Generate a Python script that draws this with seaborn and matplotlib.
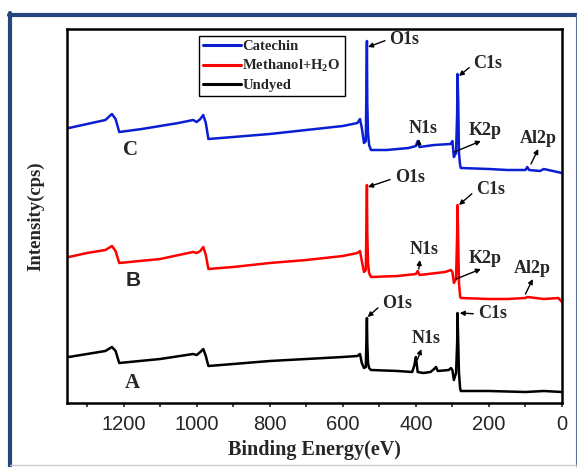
import numpy as np
import pandas as pd
import matplotlib
matplotlib.use("Agg")
import matplotlib.pyplot as plt
from matplotlib.lines import Line2D
import seaborn as sns

# survey spectra (binding energy in eV, intensity in arbitrary cps units, offset per curve)
catechin_energy = [1350, 1300, 1250, 1232, 1222, 1212, 1150, 1100, 1050, 1010, 1000, 990, 982, 975, 968,
                   900, 800, 700, 600, 560, 553, 548, 542, 537, 535, 534, 533, 531, 528, 523,
                   480, 420, 400, 395, 390, 350, 305, 300, 296, 290, 287, 286, 284, 282, 279, 277,
                   200, 150, 100, 95, 90, 60, 50, 0]
catechin_counts = [275, 279, 283, 289, 284, 271, 274, 277, 280, 283, 281, 284, 288, 280, 264,
                   266, 269, 273, 277, 280, 284, 275, 260, 262, 330, 362, 300, 270, 258, 253,
                   253, 255, 257, 262, 256, 258, 259, 262, 246, 250, 290, 329, 300, 250, 238, 235,
                   234, 233, 233, 236, 233, 232, 234, 230]

methanol_energy = [1350, 1300, 1250, 1232, 1222, 1212, 1100, 1010, 1000, 990, 982, 975, 968,
                   900, 800, 700, 600, 560, 553, 548, 542, 537, 535, 534, 533, 531, 528, 523,
                   450, 400, 395, 390, 320, 304, 300, 296, 290, 287, 286, 284, 282, 279, 277,
                   200, 150, 100, 95, 50, 10, 0]
methanol_counts = [146, 150, 153, 157, 152, 140, 144, 151, 150, 152, 156, 148, 134,
                   136, 140, 143, 147, 150, 152, 142, 131, 133, 190, 218, 170, 140, 130, 126,
                   127, 129, 132, 128, 131, 133, 131, 120, 124, 170, 198, 160, 120, 107, 105,
                   104, 104, 105, 106, 104, 105, 101]

undyed_energy = [1350, 1300, 1250, 1232, 1222, 1212, 1100, 1010, 1000, 990, 982, 975, 968,
                 900, 800, 700, 600, 560, 553, 548, 542, 537, 535, 534, 533, 531, 528, 523,
                 450, 410, 404, 400, 398, 395, 380, 360, 350, 345, 340, 310, 304, 300, 296, 290,
                 287, 286, 284, 282, 279, 277, 200, 100, 50, 0]
undyed_counts = [46, 49, 52, 56, 52, 40, 44, 49, 48, 51, 54, 47, 37,
                 39, 42, 44, 46, 47, 49, 40, 35, 36, 70, 85, 60, 40, 35, 33,
                 32, 31, 38, 46, 40, 31, 30, 31, 34, 36, 32, 33, 35, 33, 23, 30,
                 60, 90, 60, 30, 15, 12, 12, 11, 12, 11]

series_names = ["Catechin", "Methanol+H$_{\\rm 2}$O", "Undyed"]
series_colors = ["#0a1ed2", "#ff0000", "#000000"]

# labels pointed at from the spike tops: (text, text left energy, text intensity, spike energy, spike intensity)
spike_labels = [
    ("O1s", 472, 364, 531, 356),
    ("C1s", 242, 339, 282, 327),
    ("O1s", 458, 225, 531, 216),
    ("C1s", 235, 213, 282, 198),
    ("O1s", 492, 99, 532, 86),
    ("C1s", 230, 89, 280, 90),
]
# labels with the arrow rising from the curve: (text, text centre energy, text bottom, tail energy, tail intensity)
rising_labels = [
    ("N1s", 380, 266, 392, 258),
    ("K2p", 210, 264, 295, 251),
    ("Al2p", 65, 256, 85, 239),
    ("N1s", 377, 145, 392, 134),
    ("K2p", 210, 136, 290, 124),
    ("Al2p", 80, 126, 100, 109),
    ("N1s", 373, 56, 396, 43),
]

curve_letters = ["C", "B", "A"]
curve_letter_pos = [(1180, 253), (1175, 122), (1175, 20)]

spectra = pd.concat([
    pd.DataFrame({"energy": catechin_energy, "counts": catechin_counts, "sample": series_names[0]}),
    pd.DataFrame({"energy": methanol_energy, "counts": methanol_counts, "sample": series_names[1]}),
    pd.DataFrame({"energy": undyed_energy, "counts": undyed_counts, "sample": series_names[2]}),
])

sns.set_style("ticks")
plt.rcParams["font.family"] = ["Liberation Serif", "DejaVu Serif"]
plt.rcParams["mathtext.fontset"] = "custom"
plt.rcParams["mathtext.rm"] = "Liberation Serif:bold"

fig = plt.figure(figsize=(5.77, 4.67), dpi=100)
ax = fig.add_axes([67 / 577, 1 - 403 / 467, 495 / 577, 374 / 467])

for name, color in zip(series_names, series_colors):
    sub = spectra[spectra["sample"] == name]
    sns.lineplot(data=sub, x="energy", y="counts", sort=False, color=color,
                 linewidth=1.8, label=name, ax=ax, estimator=None)

ax.set_xlim(1355, 0)
ax.set_ylim(0, 374)
ax.set_xticks(np.arange(0, 1201, 200))
ax.set_xticks(np.arange(100, 1301, 200), minor=True)
ax.set_yticks([])
ax.tick_params(axis="x", which="both", direction="out", length=3, width=1.2, pad=6)
for lab in ax.get_xticklabels():
    lab.set_fontfamily("Liberation Sans")
    lab.set_fontsize(14.5)
for sp in ax.spines.values():
    sp.set_linewidth(1.8)
    sp.set_color("black")

ax.set_xlabel("Binding Energy(eV)", fontsize=14.5, fontweight="bold", labelpad=4)
ax.set_ylabel("Intensity(cps)", fontsize=13.5, fontweight="bold", labelpad=16)

arrow = dict(arrowstyle="-|>", color="black", lw=1.0, mutation_scale=7)

for txt, lx, ly, tx, ty in spike_labels:
    ax.annotate(txt, xy=(tx, ty), xytext=(lx, ly), fontsize=13, fontweight="bold",
                ha="left", va="center",
                arrowprops=dict(arrow, relpos=(0, 0.5), shrinkA=1, shrinkB=0))

for txt, lx, ly, tx, ty in rising_labels:
    hx = lx + (12 if txt != "Al2p" else 0)
    ax.annotate("", xy=(hx, ly - 2), xytext=(tx, ty), arrowprops=dict(arrow, shrinkA=0, shrinkB=0))
    ax.text(lx, ly, txt, fontsize=13, fontweight="bold", ha="center", va="bottom")

for letter, (lx, ly) in zip(curve_letters, curve_letter_pos):
    fam = "Liberation Sans" if letter == "B" else "Liberation Serif"
    ax.text(lx, ly, letter, fontsize=15, fontweight="bold", family=fam, ha="center", va="center")

leg = ax.legend(loc="upper left", bbox_to_anchor=(0.266, 0.982), borderaxespad=0,
                frameon=True, fancybox=False, edgecolor="black", framealpha=1,
                handlelength=2.6, handletextpad=0.1, labelspacing=0.3, borderpad=0.3,
                prop={"family": "Liberation Serif", "weight": "bold", "size": 10.5})
leg.get_frame().set_linewidth(1.0)
for h in leg.get_lines():
    h.set_linewidth(2.2)

# frame drawn around the whole picture
W, H = 577, 467
frame = "#24457e"
fig.add_artist(Line2D([10 / W, 10 / W], [0, 1 - 13 / H], color=frame, lw=3, transform=fig.transFigure))
fig.add_artist(Line2D([8.5 / W, 1], [1 - 15 / H, 1 - 15 / H], color=frame, lw=3, transform=fig.transFigure))
fig.add_artist(Line2D([576 / W, 576 / W], [0, 1 - 15 / H], color="#5a6e96", lw=0.8, transform=fig.transFigure))
fig.add_artist(Line2D([10 / W, 1], [2 / H, 2 / H], color="#c9ced6", lw=1, transform=fig.transFigure))

fig.savefig("out.png", dpi=100)
